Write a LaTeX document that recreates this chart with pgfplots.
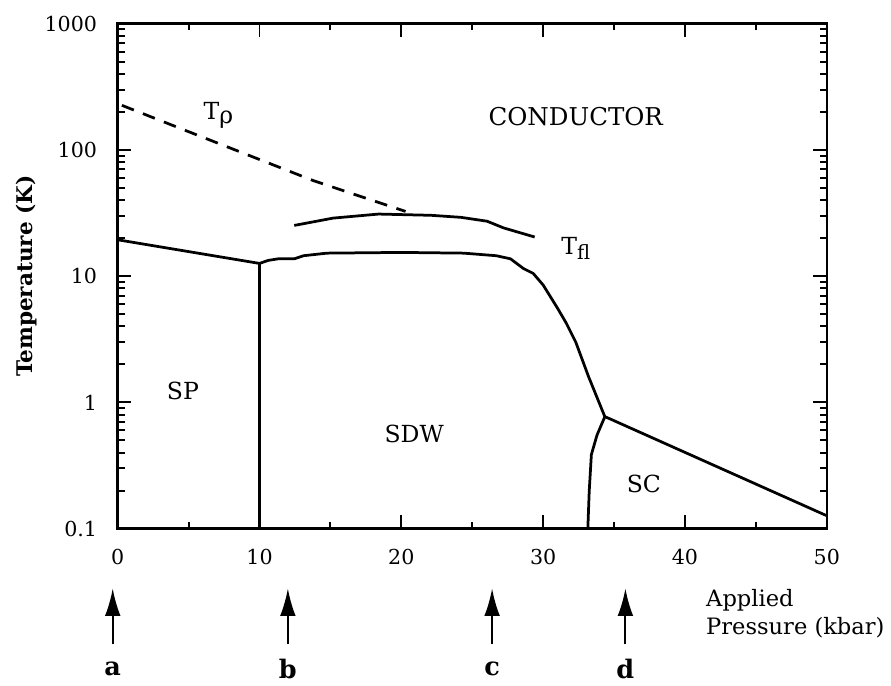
\documentclass[border=0pt]{standalone}
\usepackage{fontspec}
\setmainfont{DejaVu Serif}
\usepackage{pgfplots}
\pgfplotsset{compat=1.18}
\usetikzlibrary{arrows.meta}
\begin{document}
\begin{tikzpicture}[font=\fontsize{12}{14}\selectfont]
\begin{axis}[
  name=main,
  scale only axis, width=361.5pt, height=257.5pt,
  xmin=0, xmax=50, ymin=0.1, ymax=1000, ymode=log,
  axis line style={line width=1.3pt},
  clip=false,
  xtick={0,10,20,30,40,50}, minor xtick={5,15,25,35,45},
  ytick={0.1,1,10,100,1000}, yticklabels={0.1,1,10,100,1000},
  minor ytick={0.2,0.3,0.4,0.5,0.6,0.7,0.8,0.9,2,3,4,5,6,7,8,9,20,30,40,50,60,70,80,90,200,300,400,500,600,700,800,900},
  tick align=inside, xtick pos=both, ytick pos=both, xticklabel pos=left, yticklabel pos=left,
  major tick length=7pt, minor tick length=3.5pt,
  every tick/.style={black, line width=1pt},
  tick label style={font=\fontsize{10.5}{12}\selectfont},
  /pgf/number format/assume math mode=true,
  xticklabel style={yshift=-7pt}, yticklabel style={xshift=-7pt},
  ylabel={Temperature (K)},
  every axis y label/.style={at={(axis description cs:-0.128,0.5)}, rotate=90, anchor=center, font=\bfseries\fontsize{11}{13}\selectfont},
]
% SP / SDW boundary
\addplot[black, line width=1.4pt] coordinates {(0,19.4) (10,12.6)};
% vertical SP-SDW
\addplot[black, line width=1.4pt] coordinates {(10,12.6) (10,0.1)};
% SDW top boundary
\addplot[black, line width=1.4pt] coordinates {
 (10,12.6) (10.6,13.3) (11.3,13.7) (12.45,13.7) (13.1,14.5) (14.75,15.2)
 (20,15.4) (24.4,15.2) (26.7,14.5) (27.7,13.7) (28.6,11.5) (29.3,10.5)
 (30.0,8.5) (31.0,5.6) (31.6,4.3) (32.3,3.0) (33.2,1.6) (34.35,0.77)};
% SC upper boundary
\addplot[black, line width=1.4pt] coordinates {(34.35,0.77) (34.6,0.75) (49.9,0.128) (50,0.127)};
% SC left boundary
\addplot[black, line width=1.4pt] coordinates {(34.35,0.77) (33.8,0.552) (33.4,0.386) (33.25,0.2) (33.15,0.1)};
% T_fl
\addplot[black, line width=1.4pt] coordinates {
 (12.45,25.2) (15.2,28.8) (18.4,31.0) (22.1,30.3) (24.2,29.2) (26.05,27.2) (27.2,24.1) (29.4,20.4)};
% T_rho dashed
\addplot[black, line width=1.4pt, dash pattern=on 6.5pt off 5pt] coordinates {
 (0.3,225) (4.4,148) (13.8,57) (20.3,32.5)};
% region labels
\node at (axis cs:7.1,187) {T\raisebox{-0.35ex}{ρ}};
\node[font=\fontsize{12.5}{14}\selectfont] at (axis cs:32.3,183) {CONDUCTOR};
\node at (axis cs:32.3,16.5) {T\raisebox{-0.45ex}{\fontsize{10}{12}\selectfont fl}};
\node at (axis cs:4.6,1.24) {SP};
\node at (axis cs:20.9,0.565) {SDW};
\node at (axis cs:37.1,0.228) {SC};
% arrows below the axis
\draw[line width=1pt, -{Latex[length=14pt,width=8pt]}] ([yshift=-59pt]axis cs:-0.35,0.1) -- ([yshift=-30.5pt]axis cs:-0.35,0.1);
\draw[line width=1pt, -{Latex[length=14pt,width=8pt]}] ([yshift=-59pt]axis cs:12.0,0.1) -- ([yshift=-30.5pt]axis cs:12.0,0.1);
\draw[line width=1pt, -{Latex[length=14pt,width=8pt]}] ([yshift=-59pt]axis cs:26.4,0.1) -- ([yshift=-30.5pt]axis cs:26.4,0.1);
\draw[line width=1pt, -{Latex[length=14pt,width=8pt]}] ([yshift=-59pt]axis cs:35.8,0.1) -- ([yshift=-30.5pt]axis cs:35.8,0.1);
\node[font=\bfseries\fontsize{13}{15}\selectfont] at ([yshift=-71.5pt]axis cs:-0.35,0.1) {a};
\node[font=\bfseries\fontsize{13}{15}\selectfont] at ([yshift=-71.5pt]axis cs:12.0,0.1) {b};
\node[font=\bfseries\fontsize{13}{15}\selectfont] at ([yshift=-71.5pt]axis cs:26.4,0.1) {c};
\node[font=\bfseries\fontsize{13}{15}\selectfont] at ([yshift=-71.5pt]axis cs:35.8,0.1) {d};
\node[anchor=west, font=\fontsize{11.5}{13}\selectfont] at ([xshift=296.5pt,yshift=-36.5pt]axis cs:0,0.1) {Applied};
\node[anchor=west, font=\fontsize{11.5}{13}\selectfont] at ([xshift=296.5pt,yshift=-50.5pt]axis cs:0,0.1) {Pressure (kbar)};
\end{axis}
\useasboundingbox ([shift={(-60pt,-76.5pt)}]main.south west) rectangle ([shift={(385.5pt,269.5pt)}]main.south west);
\end{tikzpicture}
\end{document}
